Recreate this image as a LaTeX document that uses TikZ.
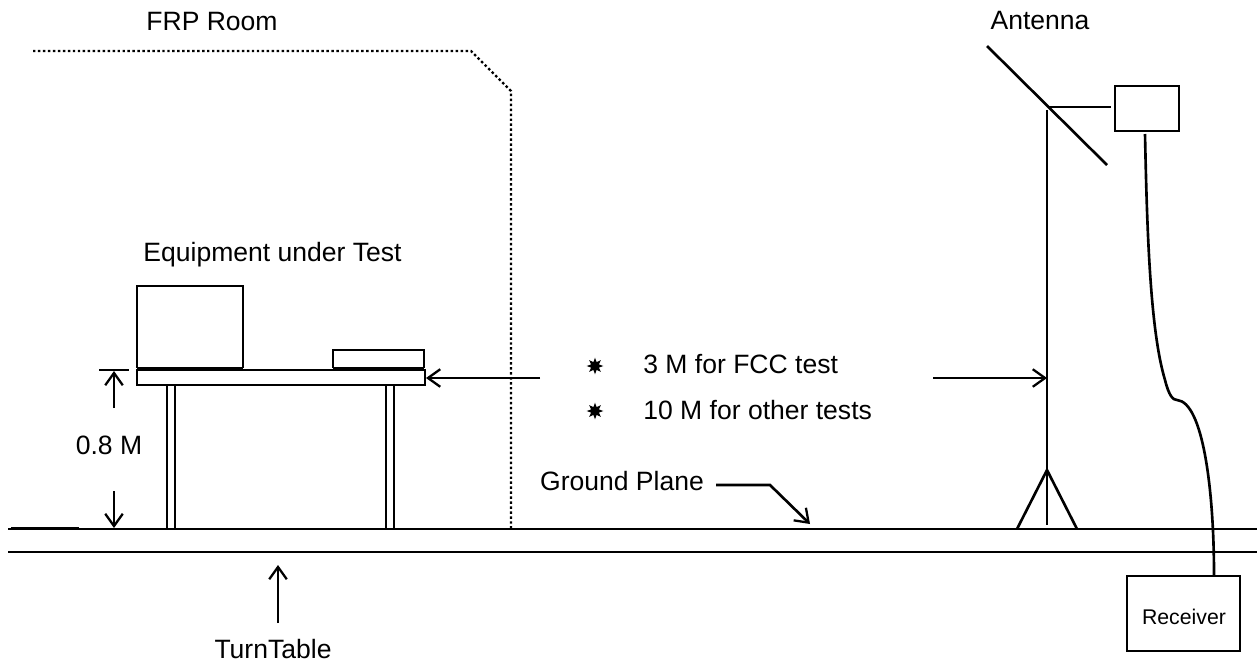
\documentclass[tikz,border=0pt]{standalone}
\usepackage{fontspec}
\setmainfont{Liberation Sans}
\usetikzlibrary{arrows.meta,shapes.geometric}

\tikzset{
  wire/.style={line width=1.5pt},
  barb/.style={wire,-{Straight Barb[length=7pt,width=10pt,line width=1.3pt]}},
  label/.style={font=\fontsize{15.1pt}{18pt}\selectfont,inner sep=0pt},
  bullet/.style={star,star points=8,star point ratio=2,fill=black,inner sep=0pt,minimum size=9.5pt},
}

\begin{document}
\begin{tikzpicture}[x=0.02cm, y=-0.02cm, line join=miter, >=Stealth]
  \useasboundingbox (0,0) rectangle (1257,664);
  \coordinate (G1) at (8,529);
  \coordinate (G2) at (1257,529);
  \coordinate (T1) at (8,552);
  \coordinate (T2) at (1257,552);
  \coordinate (Top) at (1047,110);
  \coordinate (Apex) at (1047,470);
  % floor
  \draw[wire] (G1) -- (G2);
  \draw[wire] (T1) -- (T2);
  \draw[wire] (11,528) -- (79,528);
  % room
  \draw[line width=1.4pt,dash pattern=on 1.4pt off 1.43pt] (33,51) -- (471,51) -- (511,91) -- (511,529);
  % table and equipment
  \draw[wire] (137,370) rectangle (425,385);
  \draw[wire] (167,385) -- (167,529) (175,385) -- (175,529);
  \draw[wire] (386,385) -- (386,529) (394,385) -- (394,529);
  \draw[wire] (137,368) |- (243,286) -- (243,368);
  \draw[wire] (333,368) |- (424,350) -- (424,368);
  \draw[line width=2.4pt] (137,369) -- (243,369);
  \draw[line width=2.4pt] (333,369) -- (424,369);
  % height
  \draw[wire] (99,370) -- (129,370);
  \draw[barb] (114,408) -- (114,371);
  \draw[barb] (114,491) -- (114,528);
  \node[label] (height) at (109,445) {0.8 M};
  % distance
  \draw[barb] (540,378) -- (426,378);
  \draw[barb] (933,378) -- (1047,378);
  \node[bullet] (star1) at (595,366) {};
  \node[bullet] (star2) at (595,411) {};
  \node[label,anchor=west] (dist1) at (643,364) {3 M for FCC test};
  \node[label,anchor=west] (dist2) at (643,410) {10 M for other tests};
  % antenna
  \draw[wire] (Top) -- (1047,525);
  \draw[wire] (987,46) -- (1107,165);
  \draw[wire] (1048,107) -- (1111,107);
  \draw[wire] (1017,529) -- (Apex) -- (1077,529);
  \draw[wire] (1115,86) rectangle (1179,131);
  % receiver
  \draw[wire] (1127,576) rectangle (1240,651);
  \node[font=\fontsize{12.1pt}{14pt}\selectfont,inner sep=0pt] (receiver) at (1184,617) {Receiver};
  \draw[wire] (1145,134) .. controls (1147,230) and (1150,330) .. (1165,380)
    .. controls (1169,396) and (1173,400) .. (1177,400)
    .. controls (1203,402) and (1214,490) .. (1214,575);
  % labels
  \node[label] (room) at (212,21) {FRP Room};
  \node[label] (antenna) at (1040,20) {Antenna};
  \node[label] (eut) at (272.5,255) {Equipment under Test};
  \node[label] (ground) at (622,481) {Ground Plane};
  \node[label] (table) at (273,649) {TurnTable};
  \draw[barb] (716,485) -- (770,485) -- (810,524);
  \draw[barb] (278,623) -- (278,565);
\end{tikzpicture}
\end{document}
